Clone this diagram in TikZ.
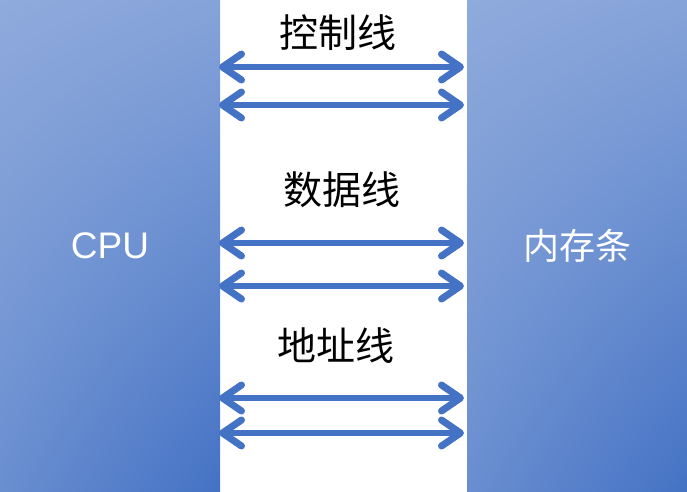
\documentclass[tikz,border=0pt]{standalone}
\usepackage{fontspec}
\setsansfont{Liberation Sans}
\newfontfamily\cjk{Noto Sans CJK SC}
\usetikzlibrary{arrows.meta,positioning,shadings}
\definecolor{lightblue}{HTML}{8FAADC}
\definecolor{darkblue}{HTML}{4472C4}
\begin{document}
\begin{tikzpicture}[x=1pt,y=-1pt,
  unit/.style={shade,upper left=lightblue,upper right=lightblue!88!darkblue,lower left=lightblue!50!darkblue,lower right=darkblue,minimum width=220pt,minimum height=491pt,inner sep=0pt,outer sep=0pt,text=white},
  bus/.style={{Straight Barb[length=19pt,width=26pt,round,line width=7pt]}-{Straight Barb[length=19pt,width=26pt,round,line width=7pt]},line width=5.5pt,draw=darkblue},
  buslabel/.style={font=\cjk\fontsize{39}{44}\selectfont}]
\useasboundingbox[fill=white] (0,0) rectangle (687,491);
\node[unit,anchor=north west,font=\sffamily\fontsize{37}{44}\selectfont] (cpu) at (0,0) {CPU};
\node[unit,anchor=north east,font=\cjk\fontsize{36}{44}\selectfont] (mem) at (687,0) {内存条};
\node[buslabel] (ctrl) at (338,33) {控制线};
\node[buslabel] (data) at (342,190) {数据线};
\node[buslabel] (addr) at (336,346) {地址线};
\foreach \y in {67,105,243,286,398,433}
  \draw[bus] ([xshift=-1pt]cpu.east |- 0,\y) -- ([xshift=-3pt]mem.west |- 0,\y);
\end{tikzpicture}
\end{document}
